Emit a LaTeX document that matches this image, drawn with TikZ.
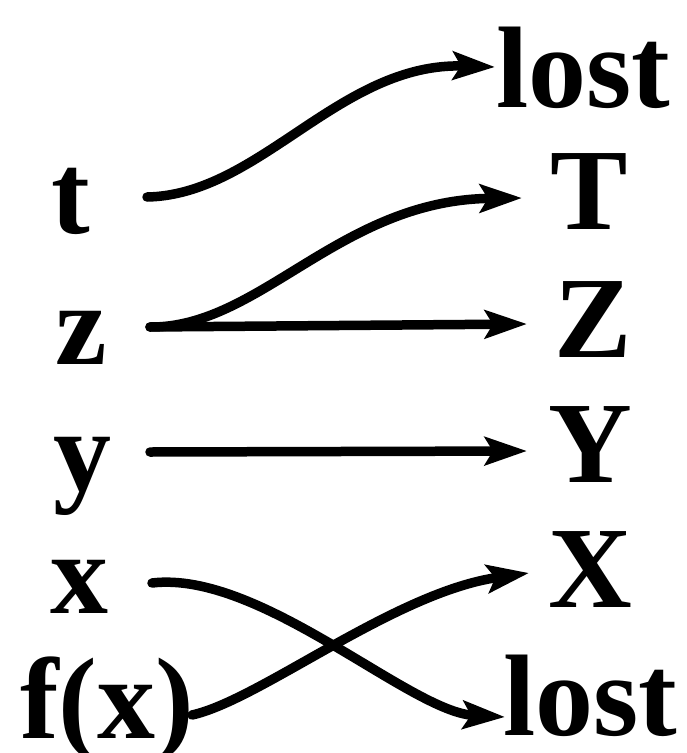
\documentclass[tikz,border=0pt]{standalone}
\usepackage{fontspec}
\setmainfont{Liberation Serif}
\usetikzlibrary{arrows.meta}
\begin{document}
\begin{tikzpicture}[x=1pt,y=-1pt,
  lab/.style={anchor=base west,inner sep=0pt,font=\fontsize{116}{120}\selectfont\bfseries},
  arr/.style={line width=9.5pt,line cap=round,-{Stealth[length=42pt,width=28pt,inset=8pt]}}]
\useasboundingbox (0,0) rectangle (687,753);
% left labels
\node[lab] (t)  at (51,233) {t};
\node[lab] (z)  at (55,364) {z};
\node[lab] (y)  at (53,490) {y};
\node[lab] (x)  at (50,613) {x};
\node[lab] (fx) at (20,738) {f(x)};
% right labels
\node[lab] (lost1) at (496,107) {lost};
\node[lab] (T)  at (550,229) {T};
\node[lab] (Z)  at (554,357) {Z};
\node[lab] (Y)  at (548,482) {Y};
\node[lab] (X)  at (548,607) {X};
\node[lab] (lost2) at (503,735) {lost};
% connector ends
\coordinate (ts) at (147,197);
\coordinate (zs) at (150,327);
\coordinate (ys) at (150,452);
\coordinate (xs) at (152,583);
\coordinate (fs) at (192,715);
\coordinate (l1e) at (495,67);
\coordinate (Te) at (522,198);
\coordinate (Ze) at (527,324);
\coordinate (Ye) at (527,451);
\coordinate (Xe) at (529,573);
\coordinate (l2e) at (505,717);
% connectors
\draw[arr] (ts) .. controls (260,195) and (340,62) .. (l1e);
\draw[arr] (zs) .. controls (260,328) and (340,200) .. (Te);
\draw[arr] (zs) -- (Ze);
\draw[arr] (ys) -- (Ye);
\draw[arr] (xs) .. controls (260,570) and (410,712) .. (l2e);
\draw[arr] (fs) .. controls (260,700) and (395,592) .. (Xe);
\end{tikzpicture}
\end{document}
